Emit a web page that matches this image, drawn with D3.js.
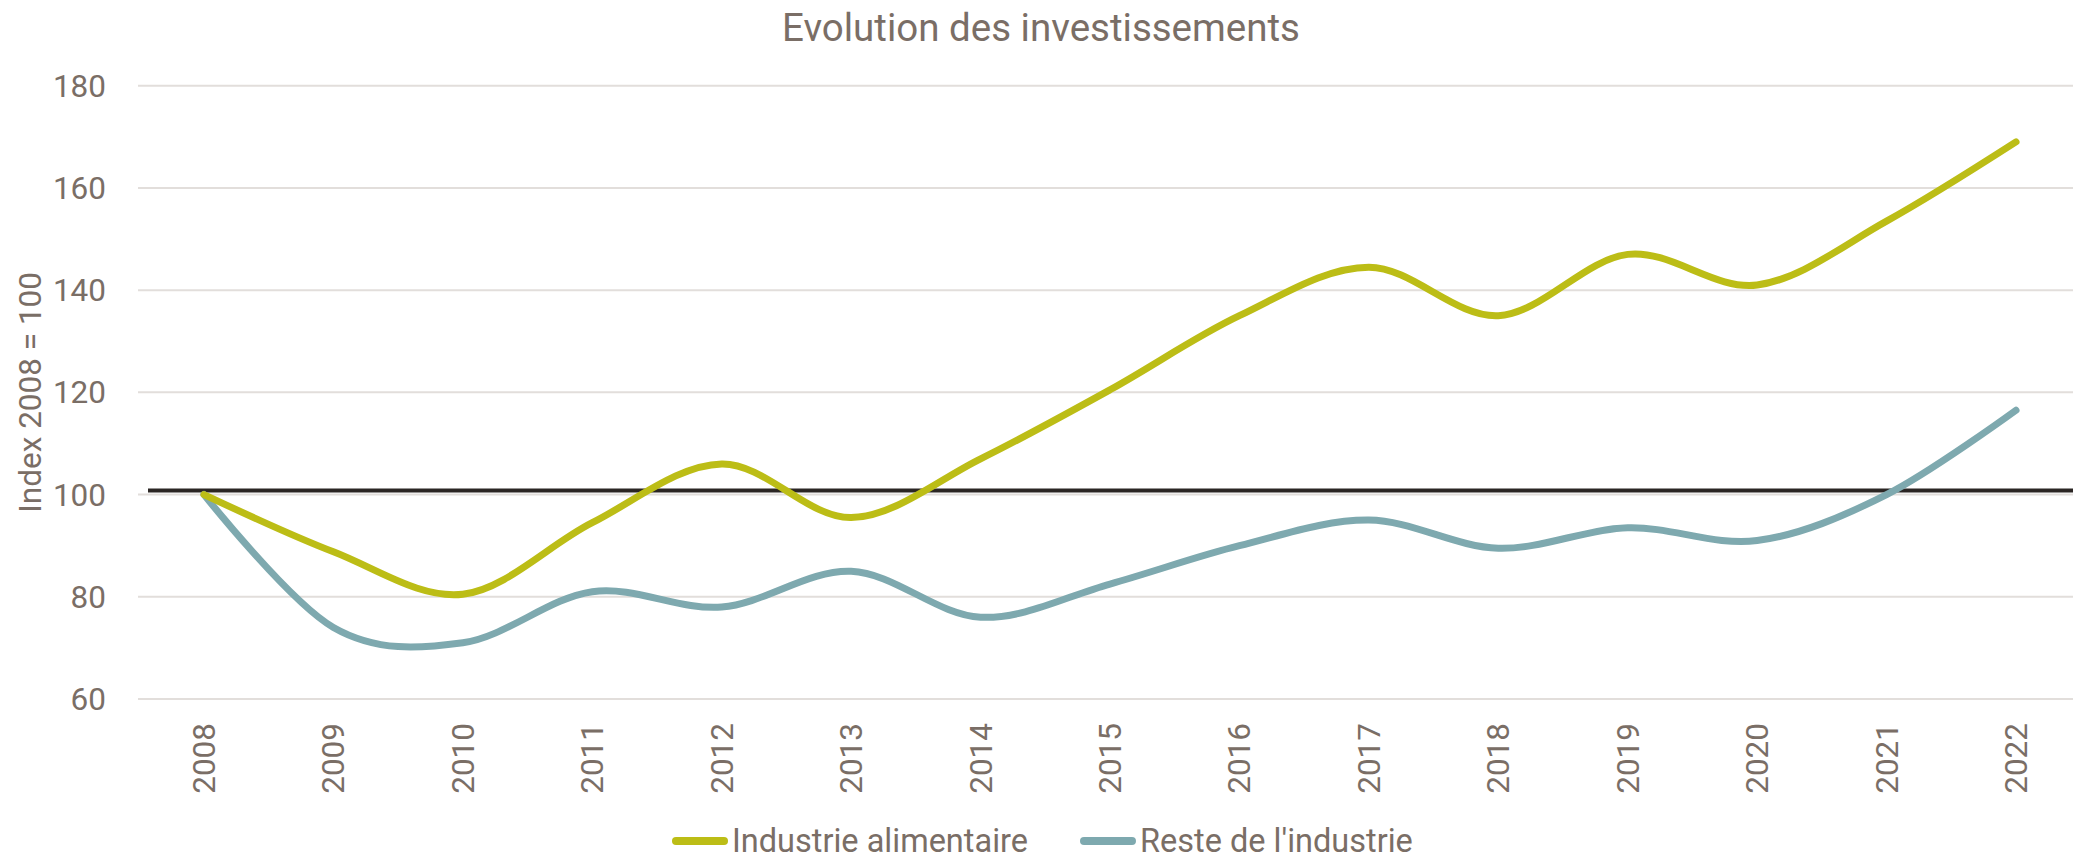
<!DOCTYPE html>
<html>
<head>
<meta charset="utf-8">
<script src="https://cdn.jsdelivr.net/npm/d3@7"></script>
<style>
  body { margin: 0; background: #fff; }
  text { font-family: Roboto, "Noto Sans", sans-serif; fill: #7a6e66; }
</style>
</head>
<body>
<div id="chart"></div>
<script>
const years = ['2008', '2009', '2010', '2011', '2012', '2013', '2014', '2015',
  '2016', '2017', '2018', '2019', '2020', '2021', '2022'];
const alimentaire = [100, 88.8, 80.5, 94.5, 106, 95.5, 107, 120.5, 135, 144.5, 135, 147, 141, 153.5, 169];
const resteIndustrie = [100, 74, 71, 81, 78, 85, 76, 82.5, 90, 95, 89.5, 93.5, 91, 100, 116.5];
const yTicks = [60, 80, 100, 120, 140, 160, 180];
const referenceLevel = 100.8;

const series = [
  { name: 'Industrie alimentaire', values: alimentaire, color: '#bcbd16' },
  { name: "Reste de l'industrie", values: resteIndustrie, color: '#7ea9af' }
];

const width = 2074;
const height = 859;
const gridLeft = 138;
const gridRight = 2073;

const svg = d3.select('#chart').append('svg')
  .attr('width', width)
  .attr('height', height);

const xScale = d3.scalePoint()
  .domain(years)
  .range([204, 2016]);

const yScale = d3.scaleLinear()
  .domain([60, 180])
  .range([699, 85.7]);

// title
svg.append('text')
  .attr('x', 1041)
  .attr('y', 41)
  .attr('text-anchor', 'middle')
  .style('font-size', '38.5px')
  .text('Evolution des investissements');

// gridlines + y labels
svg.append('g')
  .selectAll('line')
  .data(yTicks)
  .join('line')
  .attr('x1', gridLeft)
  .attr('x2', gridRight)
  .attr('y1', d => yScale(d))
  .attr('y2', d => yScale(d))
  .attr('stroke', '#e2dedb')
  .attr('stroke-width', 2);

svg.append('g')
  .selectAll('text')
  .data(yTicks)
  .join('text')
  .attr('x', 106)
  .attr('y', d => yScale(d))
  .attr('dy', '0.35em')
  .attr('text-anchor', 'end')
  .style('font-size', '31.5px')
  .text(d => d);

svg.append('text')
  .attr('transform', `translate(30,${(yScale(60) + yScale(180)) / 2}) rotate(-90)`)
  .attr('text-anchor', 'middle')
  .attr('dy', '0.35em')
  .style('font-size', '31.5px')
  .text('Index 2008 = 100');

// x labels
svg.append('g')
  .selectAll('text')
  .data(years)
  .join('text')
  .attr('transform', d => `translate(${xScale(d)},723) rotate(-90)`)
  .attr('text-anchor', 'end')
  .attr('dy', '0.35em')
  .style('font-size', '31.5px')
  .text(d => d);

// reference line
svg.append('line')
  .attr('x1', 148)
  .attr('x2', gridRight)
  .attr('y1', yScale(referenceLevel))
  .attr('y2', yScale(referenceLevel))
  .attr('stroke', '#2b2624')
  .attr('stroke-width', 4);

const line = d3.line()
  .x((d, i) => xScale(years[i]))
  .y(d => yScale(d))
  .curve(d3.curveCardinal.tension(0));

svg.append('g')
  .selectAll('path')
  .data(series.slice().reverse())
  .join('path')
  .attr('d', d => line(d.values))
  .attr('fill', 'none')
  .attr('stroke', d => d.color)
  .attr('stroke-width', 7)
  .attr('stroke-linecap', 'round')
  .attr('stroke-linejoin', 'round');

// legend
const legend = svg.append('g');
let lx = 672;
const ly = 841;
series.forEach(s => {
  legend.append('line')
    .attr('x1', lx + 4)
    .attr('x2', lx + 52)
    .attr('y1', ly)
    .attr('y2', ly)
    .attr('stroke', s.color)
    .attr('stroke-width', 8)
    .attr('stroke-linecap', 'round');
  const t = legend.append('text')
    .attr('x', lx + 60)
    .attr('y', ly)
    .attr('dy', '0.35em')
    .style('font-size', '32.5px')
    .text(s.name);
  lx += 60 + t.node().getComputedTextLength() + 52;
});
</script>
</body>
</html>
